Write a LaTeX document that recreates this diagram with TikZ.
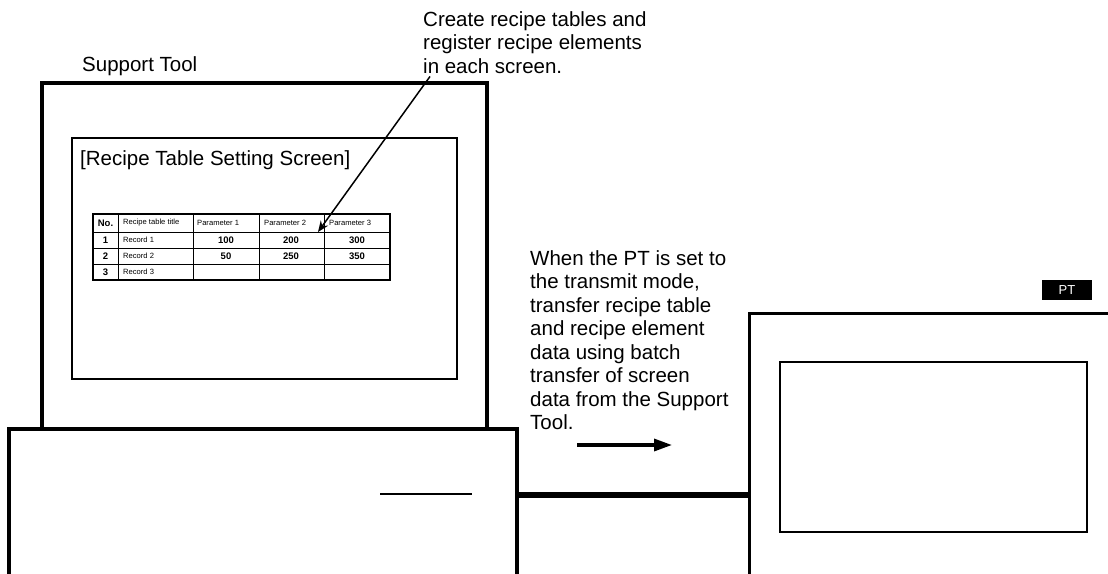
\documentclass[tikz,border=0pt]{standalone}
\usepackage{fontspec}
\setmainfont{Liberation Sans}
\usetikzlibrary{arrows.meta, positioning}

\tikzset{
  bigtext/.style={font=\fontsize{20.5}{23.5}\selectfont, align=left, inner sep=0pt},
  celltext/.style={font=\fontsize{7.6}{9}\selectfont, inner sep=0pt, anchor=west},
  cellnum/.style={font=\bfseries\fontsize{9.5}{11}\selectfont, inner sep=0pt},
}

\begin{document}
\begin{tikzpicture}[x=1pt, y=-1pt]
			\useasboundingbox (0,0) rectangle (1108,573);
			% support tool
			\draw[line width=3.5pt] (42,429) -- (42,83) -- (487,83) -- (487,429);
			\draw[line width=2pt] (72,138) rectangle (457,379);
			\draw[line width=3.5pt] (9,580) -- (9,429) -- (517,429) -- (517,580);
			\draw[line width=2pt] (380,494) -- (472,494);
			\node[bigtext, anchor=base west] (tool) at (82,71) {Support Tool};
			\node[bigtext, anchor=base west] (title) at (80,165) {[Recipe Table Setting Screen]};
			% recipe table
			\draw[line width=1.5pt] (93,214) rectangle (390,280);
			\foreach \x in {118,193,259,324}
				\draw[line width=0.8pt] (\x,214) -- (\x,280);
			\foreach \y in {232,248,264}
				\draw[line width=0.8pt] (93,\y) -- (390,\y);
			\node[cellnum] (no) at (105.5,223) {No.};
			\node[celltext] (head) at (123,223) {Recipe table title};
			\node[celltext] (par1) at (197,223) {Parameter 1};
			\node[celltext] (par2) at (264,223) {Parameter 2};
			\node[celltext] (par3) at (329,223) {Parameter 3};
			\foreach \r/\y/\a/\b/\c in {1/240/100/200/300, 2/256/50/250/350, 3/272//} {
				\node[cellnum] at (105.5,\y) {\r};
				\node[celltext] at (123,\y) {Record \r};
				\node[cellnum] at (226,\y) {\a};
				\node[cellnum] at (291,\y) {\b};
				\node[cellnum] at (357,\y) {\c};
			}
			\coordinate (cell) at (318,232);
			% notes
			\node[bigtext, anchor=north west] (note) at (423,11) {Create recipe tables and\\register recipe elements\\in each screen.};
			\draw[line width=1.5pt, -{Stealth[length=11pt, width=9pt]}] ([xshift=7pt, yshift=-3pt]note.south west) -- (cell);
			\node[bigtext, anchor=north west] (howto) at (530,250) {When the PT is set to\\the transmit mode,\\transfer recipe table\\and recipe element\\data using batch\\transfer of screen\\data from the Support\\Tool.};
			\coordinate (from) at (577,445);
			\coordinate (to) at (672,445);
			\draw[line width=3.3pt, -{Triangle[length=18pt, width=12pt]}] (from) -- (to);
			% PT
			\draw[line width=3pt] (749,580) -- (749,313) -- (1112,313);
			\draw[line width=2.5pt] (780,362) rectangle (1087,532);
			\node[fill=black, text=white, minimum width=50pt, minimum height=20pt, inner sep=0pt, font=\fontsize{13}{15}\selectfont] (ptlabel) at (1067,290) {PT};
			% cable
			\coordinate (port) at (517,495);
			\coordinate (ptport) at (749,495);
			\draw[line width=6pt] (port) -- (ptport);
		\end{tikzpicture}
\end{document}
